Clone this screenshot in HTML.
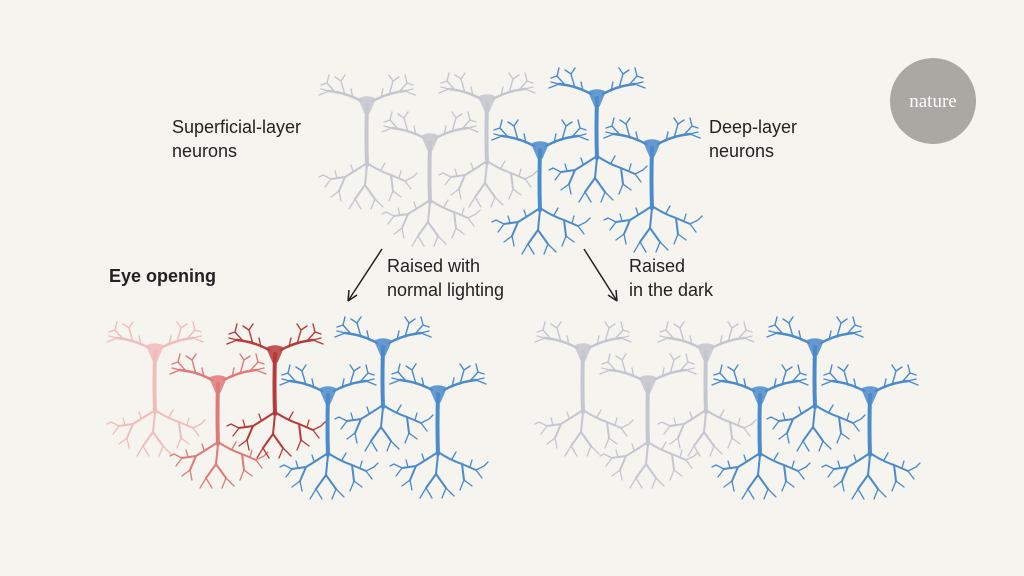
<!DOCTYPE html>
<html><head><meta charset="utf-8"><style>
html,body{margin:0;padding:0;background:#f5f4ee;}
svg{display:block}
text{font-family:"Liberation Sans",sans-serif;fill:#222;}
</style></head><body>
<svg width="1024" height="576" viewBox="0 0 1024 576" xmlns="http://www.w3.org/2000/svg">
<rect width="1024" height="576" fill="#f5f4ee"/>
<defs>
<g id="n" fill="none" stroke="currentColor" stroke-linecap="round" stroke-linejoin="round">
  <!-- upper arms -->
  <path stroke-width="2.4" d="M-6,-2 Q-20,-10 -38,-12 M6,-2 Q20,-10 38,-12"/>
  <path stroke-width="1.4" d="M-22,-8 L-26,-22 M-26,-22 L-32,-26 M-26,-22 L-22,-28 M-32,-11 L-40,-20 M-40,-20 L-46,-18 M-40,-20 L-38,-28 M-38,-12 L-48,-8 M-38,-12 L-46,-14
  M22,-8 L26,-22 M26,-22 L32,-26 M26,-22 L22,-28 M32,-11 L40,-20 M40,-20 L46,-18 M40,-20 L38,-28 M38,-12 L48,-8 M38,-12 L46,-14 M14,-5 L16,-14 M-14,-5 L-16,-14"/>
  <!-- trunk -->
  <path stroke-width="4" d="M0,2 Q-1,35 0,62"/>
  <!-- lower tree -->
  <path stroke-width="2" d="M0,60 Q-12,68 -22,74 M0,60 Q12,68 24,72 M0,62 L-2,82 M-22,74 L-36,76 M24,72 L38,78 M-22,74 L-28,88 M24,72 L26,88 M-2,82 L-12,96 M-2,82 L8,96"/>
  <path stroke-width="1.3" d="M-36,76 L-44,72 M-36,76 L-42,84 M38,78 L46,74 M38,78 L44,86 M-28,88 L-36,94 M-28,88 L-26,98 M26,88 L34,94 M26,88 L22,98 M-12,96 L-18,106 M-12,96 L-6,106 M8,96 L4,106 M8,96 L16,104 M-14,68 L-16,62 M14,67 L18,60 M-30,75 L-32,68 M32,75 L34,68 M-44,72 L-48,74 M46,74 L50,70"/>
  <!-- soma -->
  <path d="M-8,-4 Q0,-8 8,-4 L2,10 L-2,10 Z" fill="currentColor" stroke-width="1.5" opacity="0.85"/>
</g>
</defs>
<!-- top -->
<g color="#c4c7cf">
<use href="#n" x="367" y="103"/><use href="#n" x="430" y="140"/><use href="#n" x="487" y="101"/>
</g>
<g color="#4b8bcb">
<use href="#n" x="597" y="96"/><use href="#n" x="540" y="148"/><use href="#n" x="652" y="146"/>
</g>
<!-- bottom left -->
<use href="#n" x="155" y="350" color="#f1bcbc"/>
<use href="#n" x="218" y="382" color="#e07a7a"/>
<use href="#n" x="275" y="352" color="#b63a3a"/>
<g color="#4b8bcb"><use href="#n" x="383" y="345"/><use href="#n" x="328" y="393"/><use href="#n" x="438" y="392"/></g>
<!-- bottom right -->
<g color="#c4c7cf"><use href="#n" x="583" y="350"/><use href="#n" x="648" y="382"/><use href="#n" x="706" y="350"/></g>
<g color="#4b8bcb"><use href="#n" x="815" y="345"/><use href="#n" x="760" y="393"/><use href="#n" x="870" y="393"/></g>

<text x="172" y="133" font-size="18">Superficial-layer</text>
<text x="172" y="157" font-size="18">neurons</text>
<text x="709" y="133" font-size="18">Deep-layer</text>
<text x="709" y="157" font-size="18">neurons</text>
<text x="109" y="282" font-size="18" font-weight="bold">Eye opening</text>
<text x="387" y="272" font-size="18">Raised with</text>
<text x="387" y="296" font-size="18">normal lighting</text>
<text x="629" y="272" font-size="18">Raised</text>
<text x="629" y="296" font-size="18">in the dark</text>
<g stroke="#222" stroke-width="1.5" fill="none">
<path d="M382,249 L348,301"/><path d="M348,301 L349,290 M348,301 L357,295"/>
<path d="M584,249 L617,301"/><path d="M617,301 L608,295 M617,301 L616,290"/>
</g>
<circle cx="933" cy="101" r="43" fill="#a9a8a3"/>
<text x="933" y="107" font-size="19" text-anchor="middle" style="font-family:'Liberation Serif',serif;fill:#fff">nature</text>
</svg>
</body></html>
